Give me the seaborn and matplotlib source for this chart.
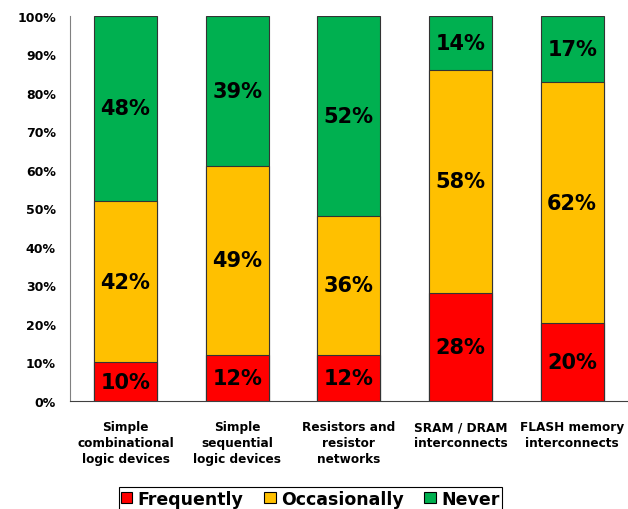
import matplotlib
matplotlib.use("Agg")
import matplotlib.pyplot as plt
from matplotlib.patches import Patch
import seaborn as sns
import pandas as pd

categories = ["Simple\ncombinational\nlogic devices", "Simple\nsequential\nlogic devices",
              "Resistors and\nresistor\nnetworks", "SRAM / DRAM\ninterconnects",
              "FLASH memory\ninterconnects"]
frequently = [10, 12, 12, 28, 20]
occasionally = [42, 49, 36, 58, 62]
never = [48, 39, 52, 14, 17]
series_names = ["Frequently", "Occasionally", "Never"]
colors = ["#FF0000", "#FFC000", "#00B050"]

sns.set_style("white")
plt.rcParams["font.family"] = ["DejaVu Sans"]
plt.rcParams["text.color"] = "black"
plt.rcParams["xtick.color"] = "black"
plt.rcParams["ytick.color"] = "black"

df = pd.DataFrame({"cat": categories, "Frequently": frequently,
                   "Occasionally": occasionally, "Never": never})
# 100% stacked: scale each bar to its total
total = df[series_names].sum(axis=1)
df["c1"] = df["Frequently"] / total * 100
df["c2"] = (df["Frequently"] + df["Occasionally"]) / total * 100
df["c3"] = 100.0

fig = plt.figure(figsize=(6.28, 5.10), dpi=100)
ax = fig.add_axes([0.111, 0.212, 0.889, 0.755])

# stacked bars: draw the totals back to front
for col, color in zip(["c3", "c2", "c1"], colors[::-1]):
    sns.barplot(data=df, x="cat", y=col, color=color, width=0.565,
                edgecolor="#333333", linewidth=0.8, saturation=1, ax=ax)

# segment labels
for i in range(len(categories)):
    bottom = 0
    for name in series_names:
        v = df[name][i]
        h = v / total[i] * 100
        ax.text(i, bottom + h / 2, f"{v}%", ha="center", va="center",
                fontsize=15, fontweight="bold", color="black")
        bottom += h

ax.set_ylim(0, 100)
ax.set_xlim(-0.5, 4.5)
ax.set_yticks(range(0, 101, 10))
ax.set_yticklabels([f"{t}%" for t in range(0, 101, 10)], fontsize=9, fontweight="bold")
ax.set_xticks(range(len(categories)))
ax.set_xticklabels(categories, fontsize=8.7, fontweight="bold", linespacing=1.3)
ax.tick_params(axis="both", length=0)
ax.tick_params(axis="x", pad=14)
ax.tick_params(axis="y", pad=10)
ax.set_xlabel("")
ax.set_ylabel("")
for s in ["top", "right"]:
    ax.spines[s].set_visible(False)
ax.spines["left"].set_color("#808080")
ax.spines["bottom"].set_color("#404040")

handles = [Patch(facecolor=c, edgecolor="black", linewidth=0.8) for c in colors]
leg = fig.legend(handles, series_names, loc="upper center", bbox_to_anchor=(0.494, 0.06),
                 ncol=3, frameon=True, fancybox=False, framealpha=1, edgecolor="black",
                 prop={"size": 12.5, "weight": "bold"}, handlelength=0.65, handleheight=0.65,
                 handletextpad=0.3, columnspacing=1.2, borderpad=0.15)
leg.get_frame().set_linewidth(0.8)
for t in leg.get_texts():
    t.set_color("black")

fig.savefig("out.png", dpi=100)
